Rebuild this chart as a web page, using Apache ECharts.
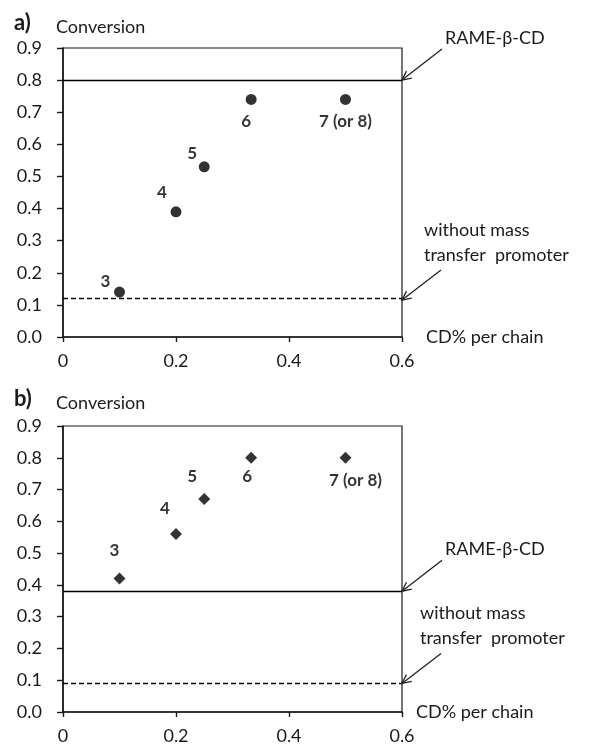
<!DOCTYPE html>
<html>
<head>
<meta charset="utf-8">
<title>Conversion vs CD% per chain</title>
<script src="https://cdn.jsdelivr.net/npm/echarts@6/dist/echarts.min.js"></script>
<style>
  html, body { margin: 0; padding: 0; background: #fff; }
  #chart { width: 590px; height: 745px; }
</style>
</head>
<body>
<div id="chart"></div>
<script>
// values
const cdPerChain = [0.1, 0.2, 0.25, 0.333, 0.5];
const pointNames = ['3', '4', '5', '6', '7 (or 8)'];
const conversionA = [0.14, 0.39, 0.53, 0.74, 0.74];
const conversionB = [0.42, 0.56, 0.67, 0.80, 0.80];
const rameLevel = [0.80, 0.38];     // RAME-β-CD, panel a / b
const blankLevel = [0.115, 0.09];   // without mass transfer promoter
const xTicks = [0, 0.6, 0.2];       // min, max, interval
const yTicks = [0, 0.9, 0.1];

// label shifts next to each point (style only)
const labelShiftA = [[-14, -11], [-14, -19], [-12, -13], [-5, 22], [0, 22]];
const labelShiftB = [[-5, -28], [-11, -26], [-12, -23], [-4, 19], [10, 23]];

const FONT = 'Lato, "Liberation Sans", sans-serif';
const INK = '#1a1a1a';

document.addEventListener('DOMContentLoaded', function() {
    const chart = echarts.init(document.getElementById('chart'), null, { renderer: 'canvas' });

    function xAxisFor(idx, gap) {
        return {
            type: 'value', gridIndex: idx,
            min: xTicks[0], max: xTicks[1], interval: xTicks[2],
            axisLine: { show: true, lineStyle: { color: INK, width: 1.6 } },
            axisTick: { show: true, inside: false, length: 5, lineStyle: { color: INK, width: 1.4 } },
            axisLabel: {
                margin: 15, fontSize: 18, color: INK, fontFamily: FONT,
                formatter: v => v === 0 ? '0' : v.toFixed(1)
            },
            splitLine: { show: false },
            name: 'CD% per chain', nameLocation: 'end', nameGap: gap,
            nameTextStyle: { fontSize: 18, color: INK, fontFamily: FONT, align: 'left', verticalAlign: 'middle', padding: [0, 0, 10, 0] }
        };
    }

    function yAxisFor(idx) {
        return {
            type: 'value', gridIndex: idx,
            min: yTicks[0], max: yTicks[1], interval: yTicks[2],
            axisLine: { show: true, lineStyle: { color: INK, width: 1.6 } },
            axisTick: { show: true, inside: false, length: 6, lineStyle: { color: INK, width: 1.4 } },
            axisLabel: {
                margin: 21, fontSize: 18, color: INK, fontFamily: FONT,
                formatter: v => v.toFixed(1)
            },
            splitLine: { show: false }
        };
    }

    function seriesFor(idx, values, shifts, symbol, size) {
        return {
            type: 'scatter', xAxisIndex: idx, yAxisIndex: idx,
            symbol: symbol, symbolSize: size,
            itemStyle: { color: '#000' },
            data: cdPerChain.map((x, i) => ({
                value: [x, values[i]],
                label: { offset: shifts[i] }
            })),
            label: {
                show: true, position: 'inside',
                formatter: p => pointNames[p.dataIndex],
                fontSize: 17, fontWeight: 'bold', color: '#000', fontFamily: FONT
            },
            markLine: {
                silent: true, symbol: 'none',
                label: { show: false },
                lineStyle: { color: '#000', width: 1.3, type: 'solid' },
                data: [
                    { yAxis: rameLevel[idx] },
                    { yAxis: blankLevel[idx], lineStyle: { type: [5, 3], width: 1.3 } }
                ]
            }
        };
    }

    const titleStyle = { fontFamily: FONT, color: INK };
    const option = {
        backgroundColor: '#fff',
        animation: false,
        title: [
            { text: 'a)', left: 14, top: 10, padding: 0, textStyle: Object.assign({ fontSize: 22, fontWeight: 'bold', lineHeight: 26 }, titleStyle) },
            { text: 'Conversion', left: 56, top: 16, padding: 0, textStyle: Object.assign({ fontSize: 18, fontWeight: 'normal', lineHeight: 22 }, titleStyle) },
            { text: 'b)', left: 14, top: 386, padding: 0, textStyle: Object.assign({ fontSize: 22, fontWeight: 'bold', lineHeight: 26 }, titleStyle) },
            { text: 'Conversion', left: 56, top: 392, padding: 0, textStyle: Object.assign({ fontSize: 18, fontWeight: 'normal', lineHeight: 22 }, titleStyle) }
        ],
        grid: [
            { left: 63, top: 48, width: 339, height: 289, show: true, borderColor: INK, borderWidth: 1.2, backgroundColor: 'transparent' },
            { left: 63, top: 426, width: 339, height: 288, show: true, borderColor: INK, borderWidth: 1.2, backgroundColor: 'transparent' }
        ],
        xAxis: [xAxisFor(0, 24), xAxisFor(1, 14)],
        yAxis: [yAxisFor(0), yAxisFor(1)],
        series: [
            seriesFor(0, conversionA, labelShiftA, 'circle', 11),
            seriesFor(1, conversionB, labelShiftB, 'diamond', 12)
        ]
    };
    chart.setOption(option);

    // arrows and notes pointing at the right end of the reference lines
    function arrow(tip, dx, dy) {
        const len = Math.hypot(dx, dy);
        const ux = -dx / len, uy = -dy / len;
        const head = 10, ang = 0.45;
        const wing = s => [
            tip[0] - head * (ux * Math.cos(ang) - s * uy * Math.sin(ang)),
            tip[1] - head * (uy * Math.cos(ang) + s * ux * Math.sin(ang))
        ];
        const stroke = { stroke: '#222', lineWidth: 1.3, fill: null };
        return [
            { type: 'polyline', shape: { points: [[tip[0] + dx, tip[1] + dy], tip] }, style: stroke },
            { type: 'polyline', shape: { points: [wing(1), tip, wing(-1)] }, style: stroke }
        ];
    }

    function note(text, x, y) {
        return {
            type: 'text', x: x, y: y,
            style: { text: text, font: '18px ' + FONT, fill: INK, verticalAlign: 'middle', lineHeight: 24 }
        };
    }

    const elements = [];
    const blankShift = [22, 18];
    [0, 1].forEach(k => {
        const finder = { xAxisIndex: k, yAxisIndex: k };
        const rameTip = chart.convertToPixel(finder, [xTicks[1], rameLevel[k]]);
        const blankTip = chart.convertToPixel(finder, [xTicks[1], blankLevel[k]]);
        elements.push(...arrow(rameTip, 40, -31));
        elements.push(note('RAME-β-CD', rameTip[0] + 43, rameTip[1] - 42));
        elements.push(...arrow(blankTip, 39, -30));
        elements.push(note('without mass', blankTip[0] + blankShift[k], blankTip[1] - 70));
        elements.push(note('transfer  promoter', blankTip[0] + blankShift[k], blankTip[1] - 45));
    });
    chart.setOption({ graphic: elements });

    window.addEventListener('resize', () => {
        chart.resize();
    });
});
</script>
</body>
</html>
